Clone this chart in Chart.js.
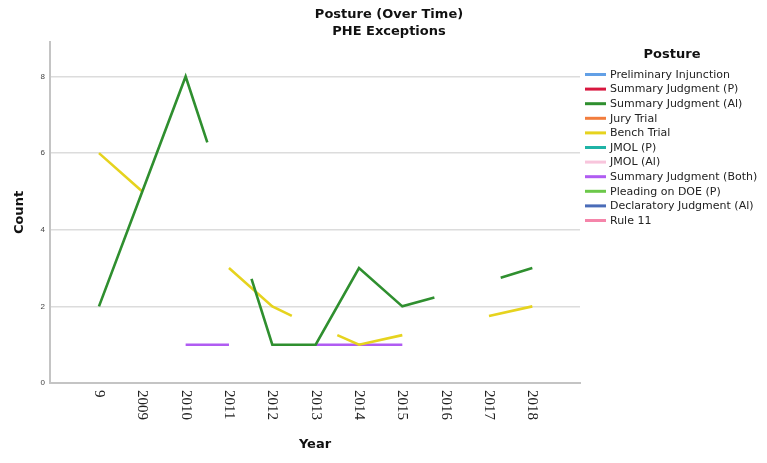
<!DOCTYPE html>
<html>
<head>
<meta charset="utf-8">
<script src="https://cdn.jsdelivr.net/npm/chart.js@4"></script>
<style>
  body { margin: 0; background: #fff; }
  #wrap { width: 767px; height: 463px; }
</style>
</head>
<body>
<div id="wrap"><canvas id="grafica" width="767" height="463"></canvas></div>
<script>
// categorias del eje x (la primera viene cortada en el original)
const years = ['9', '2009', '2010', '2011', '2012', '2013', '2014', '2015', '2016', '2017', '2018'];

// leyenda
const postures = ['Preliminary Injunction', 'Summary Judgment (P)', 'Summary Judgment (Al)', 'Jury Trial',
  'Bench Trial', 'JMOL (P)', 'JMOL (Al)', 'Summary Judgment (Both)', 'Pleading on DOE (P)',
  'Declaratory Judgment (Al)', 'Rule 11'];
const colors = ['#62a0e6', '#d8173f', '#2f8f2f', '#f27d3d', '#e6d31e', '#1fb3a6', '#f8c5dc',
  '#b05cf2', '#6cc84a', '#4a6cb8', '#f585aa'];

// series (posicion en el eje = indice del año, null = hueco)
const sjAlPos   = [0, 1, 2, 2.5, 3, 3.52, 4, 5, 6, 7, 7.74, 8, 9.27, 10];
const sjAlCount = [2, 5, 8, 6.28, null, 2.72, 1, 1, 3, 2, 2.23, null, 2.75, 3];
const benchPos   = [0, 1, 2, 3, 4, 4.45, 5, 5.5, 6, 7, 8, 9, 10];
const benchCount = [6, 5, null, 3, 2, 1.75, null, 1.25, 1, 1.25, null, 1.75, 2];
const sjBothPos   = [2, 3, 4, 5, 6, 7];
const sjBothCount = [1, 1, null, 1, 1, 1];

const yTicks = [0, 2, 4, 6, 8];
const titleLines = ['Posture (Over Time)', 'PHE Exceptions'];

const series = {
  'Summary Judgment (Al)': [sjAlPos, sjAlCount],
  'Bench Trial': [benchPos, benchCount],
  'Summary Judgment (Both)': [sjBothPos, sjBothCount]
};

const datasets = postures.map((name, i) => {
  const s = series[name];
  const data = s ? s[0].map((x, k) => ({ x: x, y: s[1][k] })) : [];
  return {
    label: name,
    data: data,
    borderColor: colors[i],
    backgroundColor: colors[i],
    borderWidth: 2.6,
    pointRadius: 0,
    tension: 0,
    spanGaps: false
  };
});

// titulo, etiquetas del eje x giradas y leyenda a la derecha
const extras = {
  id: 'extras',
  afterDraw(chart) {
    const ctx = chart.ctx;
    const x = chart.scales.x;
    ctx.save();
    ctx.textBaseline = 'middle';

    ctx.font = 'bold 13px "DejaVu Sans"';
    ctx.textAlign = 'center';
    ctx.fillStyle = '#111';
    titleLines.forEach((t, i) => ctx.fillText(t, 389, 15 + i * 16.5));

    ctx.font = '15px "Liberation Serif"';
    ctx.fillStyle = '#222';
    ctx.textAlign = 'left';
    years.forEach((lab, i) => {
      ctx.save();
      ctx.translate(x.getPixelForValue(i), chart.chartArea.bottom + 7);
      ctx.rotate(Math.PI / 2);
      ctx.fillText(lab, 0, 0);
      ctx.restore();
    });

    ctx.font = 'bold 13px "DejaVu Sans"';
    ctx.textAlign = 'center';
    ctx.fillStyle = '#111';
    ctx.fillText('Posture', 672, 55);

    ctx.font = '11px "DejaVu Sans"';
    ctx.textAlign = 'left';
    chart.data.datasets.forEach((ds, i) => {
      const y = 74.5 + i * 14.6;
      ctx.strokeStyle = ds.borderColor;
      ctx.lineWidth = 3;
      ctx.beginPath();
      ctx.moveTo(585, y);
      ctx.lineTo(606, y);
      ctx.stroke();
      ctx.fillStyle = '#222';
      ctx.fillText(ds.label, 610, y + 0.5);
    });
    ctx.restore();
  }
};

new Chart(document.getElementById('grafica'), {
  type: 'line',
  data: { datasets: datasets },
  plugins: [extras],
  options: {
    responsive: false,
    animation: false,
    layout: { padding: { left: 0, right: 187, top: 42, bottom: 0 } },
    plugins: {
      legend: { display: false },
      tooltip: { enabled: false }
    },
    scales: {
      x: {
        type: 'linear',
        min: -1.13,
        max: 11.1,
        afterFit: s => { s.height = 80; },
        ticks: { display: false },
        grid: { color: 'rgba(0,0,0,0)', drawTicks: false },
        border: { color: '#c4c4c4', width: 2 },
        title: {
          display: true,
          text: 'Year',
          color: '#111',
          font: { family: 'DejaVu Sans', size: 13, weight: 'bold' },
          padding: { top: 0, bottom: 11 }
        }
      },
      y: {
        min: 0,
        max: 8.9,
        afterFit: s => { s.width = 50; },
        afterBuildTicks: s => { s.ticks = yTicks.map(v => ({ value: v })); },
        ticks: {
          color: '#444',
          font: { family: 'Liberation Sans', size: 8 },
          padding: 5
        },
        grid: { color: '#dcdcdc', lineWidth: 1.5, drawTicks: false },
        border: { color: '#c4c4c4', width: 2 },
        title: {
          display: true,
          text: 'Count',
          color: '#111',
          font: { family: 'DejaVu Sans', size: 13, weight: 'bold' },
          padding: { top: 12, bottom: 0 }
        }
      }
    }
  }
});
</script>
</body>
</html>
